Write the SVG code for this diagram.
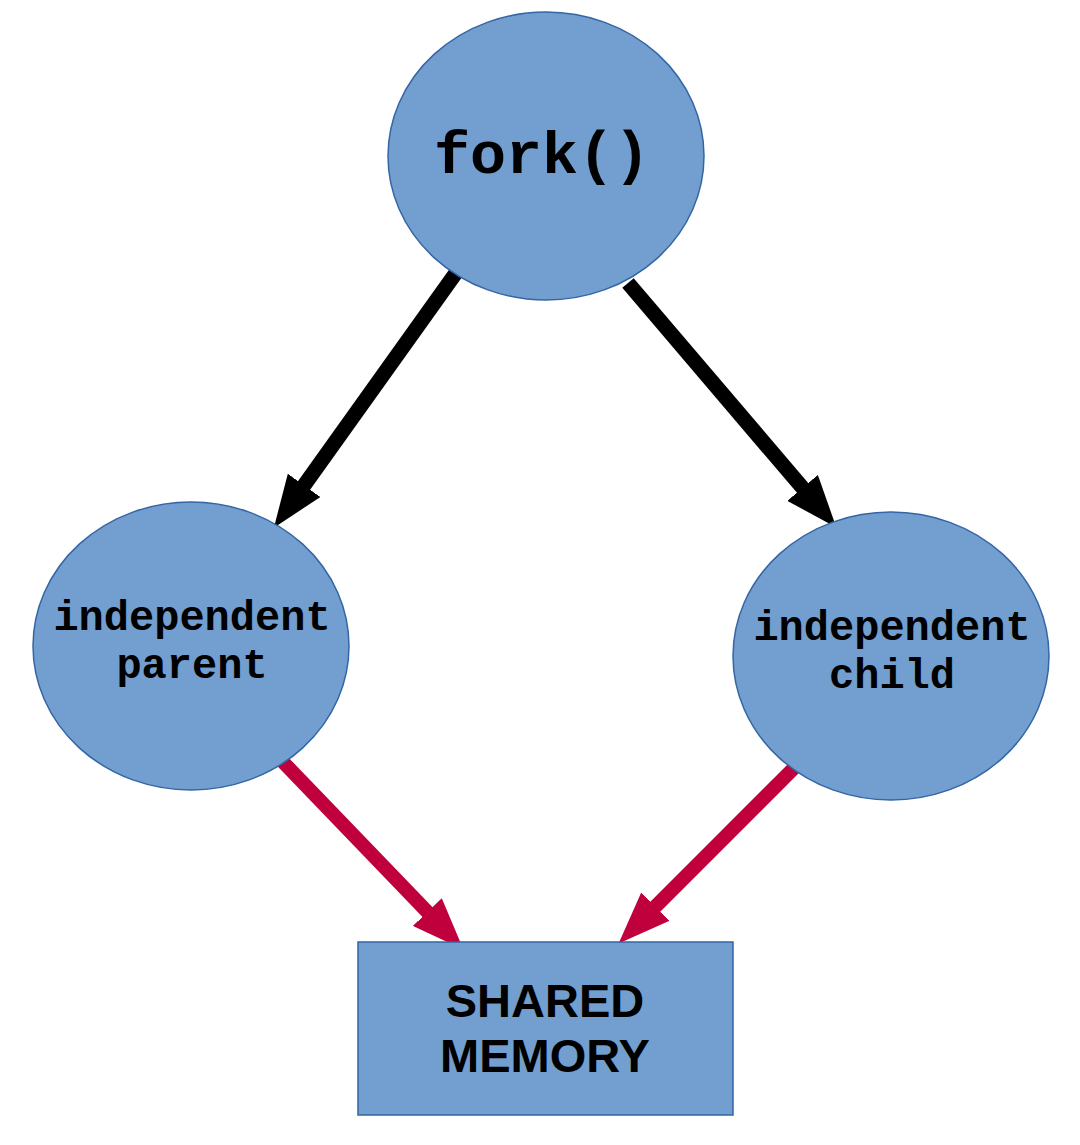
<svg xmlns="http://www.w3.org/2000/svg" width="1080" height="1145" viewBox="0 0 1080 1145">
<defs>
<style>
.node{fill:#729fcf;stroke:#3465a4;stroke-width:1.5}
.mono{font-family:"Liberation Mono","Courier New",monospace;font-weight:bold;fill:#000;text-anchor:middle}
.sans{font-family:"Liberation Sans",Arial,sans-serif;font-weight:bold;fill:#000;text-anchor:middle;font-size:47px}
.blk{stroke:#000;stroke-width:15;fill:none}
.red{stroke:#c0003c;stroke-width:14;fill:none}
</style>
<marker id="ah-black" markerUnits="userSpaceOnUse" markerWidth="52" markerHeight="40" refX="10" refY="20" orient="auto" viewBox="0 0 52 40">
<path d="M0,0 L52,20 L0,40 z" fill="#000"/>
</marker>
<marker id="ah-red" markerUnits="userSpaceOnUse" markerWidth="52" markerHeight="40" refX="10" refY="20" orient="auto" viewBox="0 0 52 40">
<path d="M0,0 L52,20 L0,40 z" fill="#c0003c"/>
</marker>
</defs>
<rect width="1080" height="1145" fill="#fff"/>
<g id="connectors">
<line class="blk" x1="458" y1="270" x2="298.3" y2="493.5" marker-end="url(#ah-black)"/>
<line class="blk" x1="628" y1="283" x2="809.1" y2="495.5" marker-end="url(#ah-black)"/>
<line class="red" x1="283" y1="762" x2="434.3" y2="919.2" marker-end="url(#ah-red)"/>
<line class="red" x1="800" y1="762" x2="648.3" y2="913.7" marker-end="url(#ah-red)"/>
</g>
<g id="fork">
<ellipse class="node" cx="546" cy="156" rx="158" ry="144"/>
<text class="mono" x="542" y="173" font-size="60">fork()</text>
</g>
<g id="parent">
<ellipse class="node" cx="191" cy="646" rx="158" ry="144"/>
<text class="mono" x="192" y="630" font-size="42">independent</text>
<text class="mono" x="192" y="678" font-size="42">parent</text>
</g>
<g id="child">
<ellipse class="node" cx="891" cy="656" rx="158" ry="144"/>
<text class="mono" x="892" y="640" font-size="42">independent</text>
<text class="mono" x="892" y="688" font-size="42">child</text>
</g>
<g id="shared-memory">
<rect class="node" x="358" y="942" width="375" height="173"/>
<text class="sans" x="545" y="1017">SHARED</text>
<text class="sans" x="545" y="1072">MEMORY</text>
</g>
</svg>
